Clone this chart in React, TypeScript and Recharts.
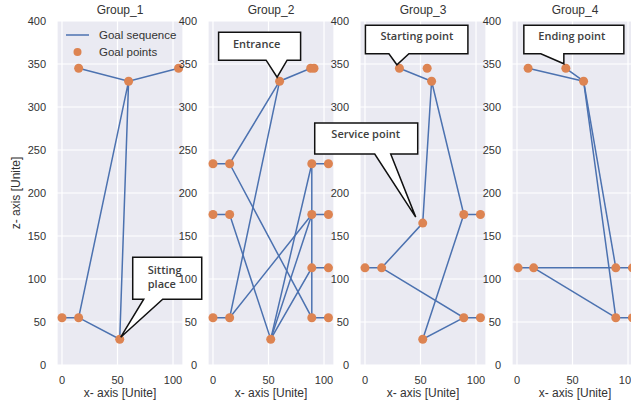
import React from 'react';
import { ScatterChart, Scatter, XAxis, YAxis, CartesianGrid, ReferenceDot } from 'recharts';

type Pt = { x: number; z: number };
const pt = (x: number, z: number): Pt => ({ x, z });

// ---------- data ----------
const groupTitles = ['Group_1', 'Group_2', 'Group_3', 'Group_4'];
const xTicks = [0, 50, 100];
const zTicks = [0, 50, 100, 150, 200, 250, 300, 350, 400];
const seriesNames = ['Goal sequence', 'Goal points'];
const xLabel = 'x- axis [Unite]';
const zLabel = 'z- axis [Unite]';

const group1Points: Pt[] = [pt(0, 55), pt(15, 55), pt(52, 30), pt(60, 330), pt(15, 345), pt(105, 345)];
const group1Paths: Pt[][] = [
  [pt(0, 55), pt(15, 55), pt(60, 330), pt(52, 30), pt(15, 55)],
  [pt(15, 345), pt(60, 330), pt(105, 345)],
];

const group2Points: Pt[] = [
  pt(0, 234), pt(15, 234), pt(0, 175), pt(15, 175), pt(0, 55), pt(15, 55), pt(52, 30), pt(60, 330),
  pt(88, 345), pt(91, 345), pt(89, 234), pt(104, 234), pt(89, 175), pt(104, 175), pt(89, 113),
  pt(104, 113), pt(89, 55), pt(104, 55),
];
const group2Paths: Pt[][] = [
  [pt(0, 234), pt(15, 234), pt(60, 330), pt(88, 345), pt(91, 345)],
  [pt(15, 234), pt(89, 55), pt(104, 55)],
  [pt(60, 330), pt(15, 55), pt(0, 55)],
  [pt(15, 55), pt(89, 175), pt(104, 175)],
  [pt(0, 175), pt(15, 175), pt(52, 30), pt(89, 175)],
  [pt(52, 30), pt(89, 113), pt(104, 113)],
  [pt(52, 30), pt(89, 234), pt(104, 234)],
  [pt(89, 234), pt(89, 55)],
];

const group3Points: Pt[] = [
  pt(31, 345), pt(56, 345), pt(60, 330), pt(52, 165), pt(0, 113), pt(15, 113), pt(89, 175),
  pt(104, 175), pt(89, 55), pt(104, 55), pt(52, 30),
];
const group3Paths: Pt[][] = [
  [pt(31, 345), pt(60, 330), pt(52, 165), pt(15, 113), pt(0, 113)],
  [pt(60, 330), pt(89, 175), pt(104, 175)],
  [pt(15, 113), pt(89, 55), pt(104, 55)],
  [pt(89, 55), pt(52, 30), pt(89, 175)],
];

const group4Points: Pt[] = [
  pt(10, 345), pt(44, 345), pt(60, 330), pt(1, 113), pt(15, 113), pt(89, 113), pt(104, 113),
  pt(89, 55), pt(104, 55),
];
const group4Paths: Pt[][] = [
  [pt(10, 345), pt(60, 330), pt(44, 345)],
  [pt(60, 330), pt(89, 113)],
  [pt(60, 330), pt(89, 55), pt(104, 55)],
  [pt(1, 113), pt(15, 113), pt(89, 113), pt(104, 113)],
  [pt(15, 113), pt(89, 55)],
];

// annotations: text + the point they point at
const group1Notes = [{ lines: ['Sitting', 'place'], at: pt(52, 30) }];
const group2Notes = [{ lines: ['Entrance'], at: pt(60, 330) }];
const group3Notes = [
  { lines: ['Service point'], at: pt(52, 165) },
  { lines: ['Starting point'], at: pt(31, 345) },
];
const group4Notes = [{ lines: ['Ending point'], at: pt(44, 345) }];

// ---------- styles ----------
const LINE = '#4C72B0';
const DOT = '#DD8452';
const BG = '#EAEAF2';
const TXT = '#333333';

type Geo = {
  bx: number; by: number; bw: number; bh: number;
  t1: number; t2: number; tipX: number; tipY: number;
  textX: number; textY: number; anchor: 'start' | 'middle';
};

const group1Geo: Geo[] = [
  { bx: 13, by: -82, bw: 69, bh: 42, t1: 24, t2: 43, tipX: 1, tipY: -2, textX: 28, textY: -65, anchor: 'start' },
];
const group2Geo: Geo[] = [
  { bx: -61, by: -49, bw: 82, bh: 28, t1: -13.5, t2: 7.5, tipX: -2.5, tipY: -4, textX: -23, textY: -33, anchor: 'middle' },
];
const group3Geo: Geo[] = [
  { bx: -108, by: -100, bw: 103, bh: 31, t1: -48, t2: -32, tipX: -7, tipY: -6, textX: -57, textY: -85, anchor: 'middle' },
  { bx: -34, by: -43, bw: 102.5, bh: 28.5, t1: -10.5, t2: 9.5, tipX: -2.5, tipY: -3.5, textX: 17.5, textY: -28, anchor: 'middle' },
];
const group4Geo: Geo[] = [
  { bx: -42, by: -43, bw: 100, bh: 28.5, t1: -25, t2: -2, tipX: -2, tipY: -4.5, textX: 6, textY: -28, anchor: 'middle' },
];

const chartLefts = [0, 151, 303, 455];
const CH_W = 207;
const CH_H = 407;
const MARGIN = { top: 21, right: 24, bottom: 0, left: 27 };

const NoShape = () => <g />;
const DotShape = (props: any) => {
  const { cx, cy } = props;
  if (cx == null || cy == null) return <g />;
  return <circle cx={cx} cy={cy} r={4.5} fill={DOT} />;
};

const calloutShape = (lines: string[], g: Geo) => (props: any) => {
  const { cx, cy } = props;
  if (cx == null || cy == null) return <g />;
  const L = cx + g.bx;
  const T = cy + g.by;
  const R = L + g.bw;
  const B = T + g.bh;
  const d = `M${L},${T}H${R}V${B}H${cx + g.t2}L${cx + g.tipX},${cy + g.tipY}L${cx + g.t1},${B}H${L}Z`;
  return (
    <g>
      <path d={d} fill="#FFFFFF" stroke="#111111" strokeWidth={1.5} />
      {lines.map((s, i) => (
        <text
          key={i}
          x={cx + g.textX}
          y={cy + g.textY + i * 14}
          textAnchor={g.anchor}
          fontFamily="'Open Sans', sans-serif"
          fontWeight={600}
          fontSize={11}
          fill="#404040"
        >
          {s}
        </text>
      ))}
    </g>
  );
};

type PanelProps = {
  points: Pt[];
  paths: Pt[][];
  notes: { lines: string[]; at: Pt }[];
  geos: Geo[];
  first: boolean;
};

function Panel({ points, paths, notes, geos, first }: PanelProps) {
  return (
    <ScatterChart width={CH_W} height={CH_H} margin={MARGIN}>
      <CartesianGrid fill={BG} stroke="#FFFFFF" strokeWidth={1.2} />
      <XAxis
        type="number"
        dataKey="x"
        domain={[-4.5, 109]}
        ticks={xTicks}
        allowDataOverflow
        axisLine={false}
        tickLine={false}
        tickSize={0}
        tickMargin={11}
        height={42}
        tick={{ fontSize: 11, fill: TXT }}
        label={{ value: xLabel, position: 'insideBottom', offset: 10, fontSize: 12, fill: TXT }}
      />
      <YAxis
        type="number"
        dataKey="z"
        domain={[0, 400]}
        ticks={zTicks}
        allowDataOverflow
        axisLine={false}
        tickLine={false}
        tickSize={0}
        tickMargin={11}
        width={30}
        tick={{ fontSize: 11, fill: TXT }}
        label={
          first
            ? { value: zLabel, angle: -90, position: 'left', offset: 11, fontSize: 12, fill: TXT, style: { textAnchor: 'middle' } }
            : undefined
        }
      />
      {paths.map((p, i) => (
        <Scatter
          key={'p' + i}
          data={p}
          line={{ stroke: LINE, strokeWidth: 1.5 }}
          shape={NoShape}
          isAnimationActive={false}
        />
      ))}
      <Scatter data={points} shape={DotShape} isAnimationActive={false} />
      {notes.map((n, i) => (
        <ReferenceDot
          key={'n' + i}
          x={n.at.x}
          y={n.at.z}
          r={0}
          zIndex={3000}
          shape={calloutShape(n.lines, geos[i])}
        />
      ))}
    </ScatterChart>
  );
}

const panels = [
  { points: group1Points, paths: group1Paths, notes: group1Notes, geos: group1Geo },
  { points: group2Points, paths: group2Paths, notes: group2Notes, geos: group2Geo },
  { points: group3Points, paths: group3Paths, notes: group3Notes, geos: group3Geo },
  { points: group4Points, paths: group4Paths, notes: group4Notes, geos: group4Geo },
];

export default function App() {
  return (
    <div
      style={{
        position: 'absolute',
        left: 0,
        top: 0,
        width: 631,
        height: 407,
        overflow: 'hidden',
        background: '#FFFFFF',
        fontFamily: "'Liberation Sans', Arial, sans-serif",
      }}
    >
      {panels.map((p, i) => (
        <div key={i} style={{ position: 'absolute', left: chartLefts[i], top: 0, width: CH_W, height: CH_H }}>
          <Panel points={p.points} paths={p.paths} notes={p.notes} geos={p.geos} first={i === 0} />
        </div>
      ))}
      <svg
        width={631}
        height={407}
        style={{ position: 'absolute', left: 0, top: 0, pointerEvents: 'none' }}
      >
        {groupTitles.map((t, i) => (
          <text key={t} x={chartLefts[i] + 57 + 63} y={14} textAnchor="middle" fontSize={12} fill={TXT}>
            {t}
          </text>
        ))}
        <line x1={66} y1={35} x2={89} y2={35} stroke={LINE} strokeWidth={1.5} />
        <text x={99} y={39} fontSize={11.5} fill={TXT}>{seriesNames[0]}</text>
        <circle cx={77.5} cy={52} r={4} fill={DOT} />
        <text x={99} y={56} fontSize={11.5} fill={TXT}>{seriesNames[1]}</text>
      </svg>
    </div>
  );
}
